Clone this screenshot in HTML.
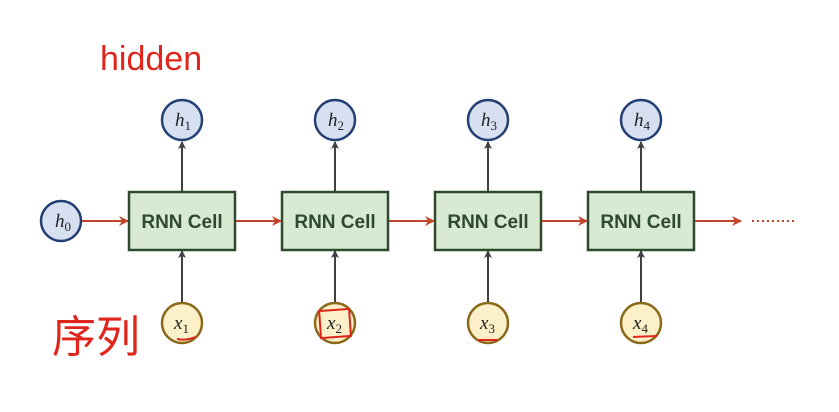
<!DOCTYPE html>
<html><head><meta charset="utf-8"><style>
html,body{margin:0;padding:0;background:#fff;}
svg{display:block}
</style></head><body>
<svg width="839" height="412" viewBox="0 0 839 412" xmlns="http://www.w3.org/2000/svg">
<defs>
<marker id="ra" markerWidth="10" markerHeight="10" refX="9" refY="5" orient="auto" markerUnits="userSpaceOnUse"><path d="M0,0 L10,5 L0,10 L3,5 z" fill="#c0452a"/></marker>
<marker id="ka" markerWidth="8" markerHeight="8" refX="7" refY="4" orient="auto" markerUnits="userSpaceOnUse"><path d="M0,0 L8,4 L0,8 L2,4 z" fill="#404040"/></marker>
</defs>
<rect width="839" height="412" fill="#fff"/>
<text x="100" y="70" font-family="Liberation Sans, sans-serif" font-size="34" fill="#e0261c" font-weight="normal">hidden</text>
<text x="52" y="352" font-family="Liberation Sans, 'Noto Sans CJK SC', sans-serif" font-size="44" font-weight="normal" fill="#e0261c">序列</text>
<circle cx="61" cy="221" r="20" fill="#d6e0f0" stroke="#243f73" stroke-width="2.5"/>
<text x="55" y="227" font-family="Liberation Serif, serif" font-style="italic" font-size="19" fill="#222">h<tspan font-size="13" dy="4" font-style="normal">0</tspan></text>
<line x1="82" y1="221" x2="128" y2="221" stroke="#c0452a" stroke-width="2" marker-end="url(#ra)"/>
<rect x="129" y="192" width="106" height="58" fill="#d9ead3" stroke="#2d4a2d" stroke-width="2.5"/>
<rect x="282" y="192" width="106" height="58" fill="#d9ead3" stroke="#2d4a2d" stroke-width="2.5"/>
<rect x="435" y="192" width="106" height="58" fill="#d9ead3" stroke="#2d4a2d" stroke-width="2.5"/>
<rect x="588" y="192" width="106" height="58" fill="#d9ead3" stroke="#2d4a2d" stroke-width="2.5"/>
<g font-family="Liberation Sans, sans-serif" font-weight="bold" font-size="19" fill="#2d4a2d" text-anchor="middle">
<text x="182" y="228">RNN Cell</text><text x="335" y="228">RNN Cell</text><text x="488" y="228">RNN Cell</text><text x="641" y="228">RNN Cell</text>
</g>
<g stroke="#c0452a" stroke-width="2">
<line x1="236" y1="221" x2="281" y2="221" marker-end="url(#ra)"/>
<line x1="389" y1="221" x2="434" y2="221" marker-end="url(#ra)"/>
<line x1="542" y1="221" x2="587" y2="221" marker-end="url(#ra)"/>
<line x1="695" y1="221" x2="741" y2="221" marker-end="url(#ra)"/>
</g>
<line x1="752" y1="221" x2="797" y2="221" stroke="#c0452a" stroke-width="2" stroke-dasharray="2 3"/>
<g stroke="#404040" stroke-width="2">
<line x1="182" y1="191" x2="182" y2="142" marker-end="url(#ka)"/>
<line x1="335" y1="191" x2="335" y2="142" marker-end="url(#ka)"/>
<line x1="488" y1="191" x2="488" y2="142" marker-end="url(#ka)"/>
<line x1="641" y1="191" x2="641" y2="142" marker-end="url(#ka)"/>
<line x1="182" y1="302" x2="182" y2="251" marker-end="url(#ka)"/>
<line x1="335" y1="302" x2="335" y2="251" marker-end="url(#ka)"/>
<line x1="488" y1="302" x2="488" y2="251" marker-end="url(#ka)"/>
<line x1="641" y1="302" x2="641" y2="251" marker-end="url(#ka)"/>
</g>
<g fill="#d6e0f0" stroke="#243f73" stroke-width="2.5">
<circle cx="182" cy="120" r="20"/><circle cx="335" cy="120" r="20"/><circle cx="488" cy="120" r="20"/><circle cx="641" cy="120" r="20"/>
</g>
<g fill="#fbf0c8" stroke="#8a6a1a" stroke-width="2.5">
<circle cx="182" cy="323" r="20"/><circle cx="335" cy="323" r="20"/><circle cx="488" cy="323" r="20"/><circle cx="641" cy="323" r="20"/>
</g>
<g font-family="Liberation Serif, serif" font-style="italic" font-size="19" fill="#222">
<text x="175" y="126">h<tspan font-size="13" dy="4" font-style="normal">1</tspan></text>
<text x="328" y="126">h<tspan font-size="13" dy="4" font-style="normal">2</tspan></text>
<text x="481" y="126">h<tspan font-size="13" dy="4" font-style="normal">3</tspan></text>
<text x="634" y="126">h<tspan font-size="13" dy="4" font-style="normal">4</tspan></text>
<text x="174" y="329">x<tspan font-size="13" dy="4" font-style="normal">1</tspan></text>
<text x="327" y="329">x<tspan font-size="13" dy="4" font-style="normal">2</tspan></text>
<text x="480" y="329">x<tspan font-size="13" dy="4" font-style="normal">3</tspan></text>
<text x="633" y="329">x<tspan font-size="13" dy="4" font-style="normal">4</tspan></text>
</g>
<g stroke="#e0261c" stroke-width="2" fill="none">
<path d="M177,339 Q186,341 195,337"/>
<rect x="320" y="310" width="30" height="27" transform="rotate(-4 335 323)"/>
<line x1="478" y1="340" x2="497" y2="340"/>
<line x1="633" y1="337" x2="657" y2="336"/>
</g>
</svg>
</body></html>
